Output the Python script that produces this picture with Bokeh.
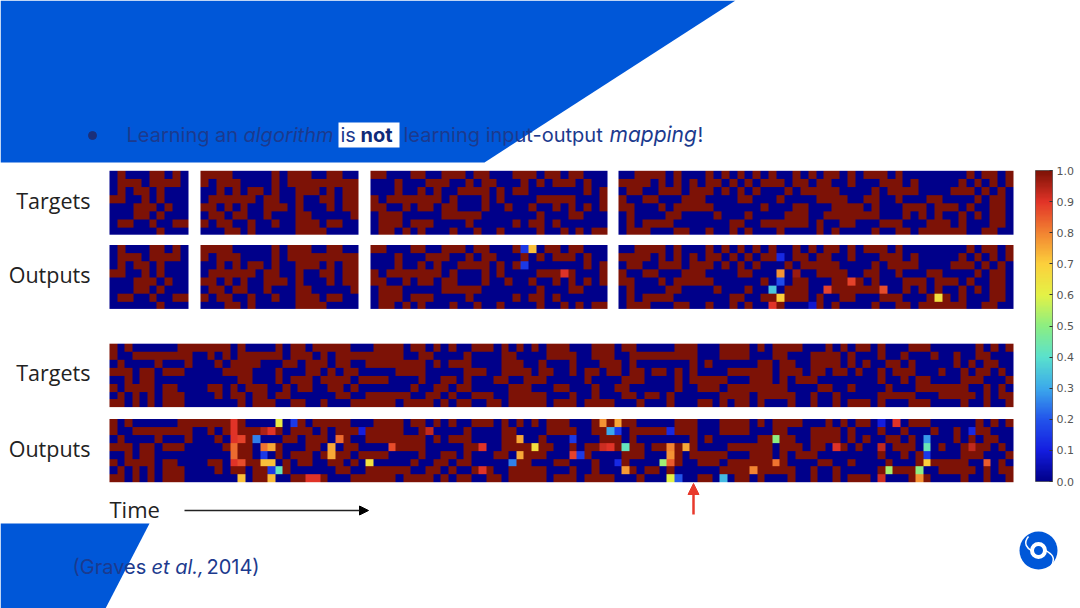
import numpy as np
from bokeh.plotting import figure
from bokeh.models import Range1d, LinearColorMapper, ColorBar, FixedTicker, PrintfTickFormatter, Arrow, NormalHead
from bokeh.core.properties import value
from bokeh.embed import file_html
from bokeh.resources import INLINE

P1_TARGET = [".#...##.#.", ".###.####.", ".#.##.#...", "##..#.#...",
             "...###.#..", "...##.#...", ".##..#..##", "......#..."]
P2_TARGET = ["####.....#.###..##..", "#.###....#.#########", "..#.#.##.#..###.#.##", ".######.##..#..##.##",
             "##.#.#..###.#...#.##", ".##.##..#...##.....#", "#.##..#..#..###.##..", "...##.#.....####...."]
P3_TARGET = ["##...##..###.##...###.##.##...", "...#...###..#.##...#.#.###.#..", "...#..#.#..####.#.##.......#.#",
             "#.#######.#...#.#....#####...#", "##..#.##.##...#..#..#..#.#.#.#", ".###.....#####.......#...##...",
             ".###.###....#.....#.##.#......", ".##.#.#...#..#..#....#..#.#.##"]
P4_TARGET = ["..####.#.." + ".#.#.#.#.#" + "..#.#.##.#" + ".###.#...." + "....#.##.#",
             "####.#.#.#" + ".##.#.#.##" + "#.##.##..#" + "...###.#.." + "...#.#.#.#",
             ".##..###.#" + "##.#.#.#.." + ".#.#####.." + "..#.####.." + "..###.#.#.",
             "#..##...##" + "#....##..." + "#....####." + ".##..#...#" + "#....#.##.",
             "##...#.###" + "##......#." + "..##...###" + "#.#...###." + "###.#..##.",
             ".#....##.." + "..#...#..." + ".###..####" + "###...#.#." + "#..#.#.##.",
             ".#.####..." + "....##..##" + "####.#..##" + "...###...#" + "##.#...##.",
             ".###...##." + ".#..#.#..." + "#....#.#.." + "..#..##.##" + "####..##.."]
LONG_TARGET = [
    "#.#......#######.#....#.##.#####...####.##.#.#..###.#.#.#.###...###.##.....###...####.#.####...#.#.##.#...###......#.#.#",
    "#..########..#.#.######.###.#.#########..##....#....##....####..###..#########...####...##...####.#...#..#...#..#..##...",
    ".#....#...#...#.####...##.###.##..########.#.###....###..#...#...###.#.......#.#......##.##..####.#.#..##.#.....#.#.##..",
    "###.##.###.....####...#...##.#.##.....####.....###..####.##..#.##.##.##.##.#.#....######.###.##.##.#..#.###...#..#.##.#.",
    "..#.##...........##...#.###.####.####....#..##.#...##..###.....#....###....#.#####...###.#.###........#..#.##....###...#",
    "#.####.##....##.#.###..#.##..##.#.......#..##.##.....###...##...#..##......#..###.########....##..#....#...#######..#.#.",
    ".#.#.#.###....#.##.##.##......##..######..##.#..###..#####...#..#...##.##.#......####.#####..#..#.....#####...#####.#.##",
    "##.#.#.###.......#.###..##..#...######.####.#.##..##.#####.###.####...#...#...##.#.##.#...#..#..#.###.#...###....#..#..#",
]
P3_OUTLIERS = [(0, 19, .15), (0, 20, .72), (2, 19, .15), (3, 24, .90)]
P4_OUTLIERS = [(1, 20, .12), (3, 20, .78), (4, 20, .18), (5, 19, .35), (6, 20, .70), (7, 19, .90), (7, 24, .08),
               (3, 22, .97), (5, 26, .88), (4, 29, .88), (5, 33, .87), (6, 40, .65)]
LONG_OUTLIERS = [(0, 16, .90), (1, 16, .90), (2, 16, .90), (2, 17, .88), (3, 16, .83), (4, 16, .83), (5, 16, .90),
                 (5, 17, .87), (7, 17, .72), (0, 22, .62), (0, 24, .15), (1, 20, .95), (1, 21, .90), (2, 19, .25),
                 (3, 20, .82), (3, 21, .75), (4, 20, .15), (5, 20, .72), (5, 21, .72), (6, 21, .15), (6, 22, .42),
                 (7, 21, .73), (7, 26, .90), (7, 27, .90), (3, 29, .75), (4, 29, .75), (2, 30, .83), (5, 34, .65),
                 (1, 33, .10), (3, 37, .87),
                 (0, 65, .78), (0, 67, .75), (1, 66, .30), (1, 67, .15), (2, 54, .75), (2, 61, .15), (3, 56, .66),
                 (3, 49, .90), (3, 66, .90), (3, 68, .42), (3, 74, .80), (3, 76, .75), (4, 54, .75), (4, 61, .88),
                 (4, 62, .15), (4, 74, .78), (5, 53, .25), (5, 67, .12), (5, 73, .52), (5, 74, .85), (6, 49, .90),
                 (6, 68, .77), (7, 74, .60), (7, 75, .20), (1, 74, .12), (3, 65, .92), (1, 42, .93),
                 (7, 81, .33), (2, 88, .50), (5, 88, .82), (6, 85, .80), (6, 103, .53), (6, 107, .50), (7, 107, .78),
                 (2, 108, .28), (3, 108, .43), (4, 108, .15), (5, 108, .70), (0, 104, .90), (5, 116, .85),
                 (7, 102, .92), (3, 96, .90), (3, 102, .93), (0, 102, .10), (1, 114, .12), (3, 114, .93)]
COLORBAR_TICKS = [0.0, 0.1, 0.2, 0.3, 0.4, 0.5, 0.6, 0.7, 0.8, 0.9, 1.0]
ROW_LABELS = ["Targets", "Outputs", "Targets", "Outputs"]

JET = [(0.0, (0, 0, 138)), (0.1, (20, 30, 225)), (0.2, (35, 85, 235)), (0.3, (60, 170, 235)), (0.4, (90, 225, 205)),
       (0.5, (140, 238, 130)), (0.6, (228, 242, 70)), (0.7, (252, 208, 60)), (0.8, (242, 132, 50)),
       (0.9, (226, 52, 40)), (1.0, (125, 18, 6))]
def jet(t):
    for (a, ca), (b, cb) in zip(JET, JET[1:]):
        if t <= b:
            f = (t - a) / (b - a)
            return tuple(int(round(ca[i] + (cb[i] - ca[i]) * f)) for i in range(3))
    return JET[-1][1]
PALETTE = ["#%02x%02x%02x" % jet(i / 255) for i in range(256)]
mapper = LinearColorMapper(palette=PALETTE, low=0, high=1)
SLIDE_BLUE = "#0057d8"
NAVY = "#1c3a8e"

p = figure(width=1080, height=608, x_range=Range1d(0, 1080), y_range=Range1d(608, 0),
           x_axis_type=None, y_axis_type=None, toolbar_location=None, output_backend="svg",
           min_border=0, outline_line_color=None, background_fill_color="white")
p.grid.visible = False

p.patch([0, 735, 484, 0], [0, 0, 162, 162], fill_color=SLIDE_BLUE, line_color=None)
p.patch([0, 149, 105, 0], [523, 523, 608, 608], fill_color=SLIDE_BLUE, line_color=None)

def draw(rows, outliers, x0, x1, y0, y1):
    arr = np.array([[1.0 if ch == "#" else 0.0 for ch in row] for row in rows])
    for r, c, v in outliers:
        arr[r, c] = v
    p.image(image=[arr], x=x0, y=y0, dw=x1 - x0, dh=y1 - y0, color_mapper=mapper)

TOP = (170.3, 234.2)
MID = (244.5, 308.4)
for rows, out, xs in [(P1_TARGET, [], (109, 188)), (P2_TARGET, [], (200, 358)),
                      (P3_TARGET, P3_OUTLIERS, (370, 607)), (P4_TARGET, P4_OUTLIERS, (618, 1013))]:
    draw(rows, [], xs[0], xs[1], *TOP)
    draw(rows, out, xs[0], xs[1], *MID)
draw(LONG_TARGET, [], 109, 1013, 343.2, 406.6)
draw(LONG_TARGET, LONG_OUTLIERS, 109, 1013, 418.5, 481.7)

def txt(x, y, s, size, color, font="Inter", style="normal", align="left"):
    p.text([x], [y], text=[s], text_font=value(font), text_font_size=f"{size}px", text_color=color,
           text_font_style=style, text_baseline="middle", text_align=align)

p.quad(left=[338], right=[399], top=[122], bottom=[147], fill_color="white", line_color=None)
p.scatter([92], [135], size=8, color="#1b2f7a")
txt(126, 134, "Learning an", 20, NAVY)
txt(243, 134, "algorithm", 20, NAVY, style="italic")
txt(340, 134, "is", 20, NAVY)
txt(360, 134, "not", 20, "#102a78", style="bold")
txt(403, 134, "learning input-output", 20, NAVY)
txt(609, 134, "mapping", 21, NAVY, style="italic")
txt(697, 134, "!", 20, NAVY)

for lab, y in zip(ROW_LABELS, [199.5, 273.5, 371.5, 447.5]):
    txt(90, y, lab, 21.5, "#222222", font="Open Sans", align="right")
txt(109, 508, "Time", 22, "#222222", font="Open Sans")
p.add_layout(Arrow(end=NormalHead(size=9, fill_color="black", line_color="black"), x_start=184, y_start=510,
                   x_end=368, y_end=510, line_color="#222222", line_width=1.5))
p.add_layout(Arrow(end=NormalHead(size=11, fill_color="#e8392b", line_color="#e8392b"), x_start=693, y_start=514,
                   x_end=693, y_end=483, line_color="#e8392b", line_width=2.5))

txt(72, 566, "(Graves", 20, NAVY)
txt(151, 566, "et al.,", 20, NAVY, style="italic")
txt(206, 566, "2014)", 20, NAVY)

cb = ColorBar(color_mapper=mapper, location=(1035, 127), width=17, height=311, padding=0,
              ticker=FixedTicker(ticks=COLORBAR_TICKS), formatter=PrintfTickFormatter(format="%.1f"),
              major_label_text_font="DejaVu Sans", major_label_text_font_size="11px",
              major_label_text_color="#555555", major_tick_line_color="#333333", major_tick_in=3, major_tick_out=0,
              bar_line_color="#333333", bar_line_width=0.6, background_fill_alpha=0, border_line_color=None,
              label_standoff=4)
p.add_layout(cb)

p.circle([1038], [550], radius=19, fill_color=SLIDE_BLUE, line_color=None)
p.annulus([1038], [550], inner_radius=4.5, outer_radius=8.5, fill_color="white", line_color=None)
p.bezier([1028, 1051], [536, 565], [1031, 1045], [550, 550], [1022, 1056], [543, 556], [1027, 1050], [548, 553],
         line_color="white", line_width=1.5)

html = file_html(p, INLINE).replace("<head>", "<head><style>html,body{margin:0;padding:0;overflow:hidden}</style>")
open("out.html", "w").write(html)
